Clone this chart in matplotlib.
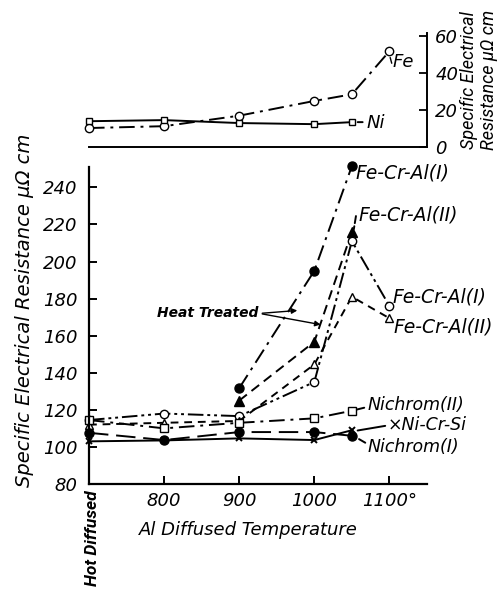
import numpy as np
import matplotlib
matplotlib.use("Agg")
import matplotlib.pyplot as plt

# x = 700 stands for the "Hot Diffused" (not diffused) specimens
temp_all = [700, 800, 900, 1000, 1050]
temp_ht = [900, 1000, 1050]
temp_fe = [700, 800, 900, 1000, 1050, 1100]

# upper panel : pure metals
fe = [10.3, 11.3, 17, 25, 28.6, 52]
ni = [14, 14.6, 13, 12.4, 13.5]

# lower panel
fecral1_ht = [131.7, 195, 251.5]
fecral2_ht = [125, 156.7, 216]
fecral1 = [114.5, 118, 116.6, 135, 211, 176]
fecral2 = [112, 113, 114, 144.5, 181, 169.4]
nichrom2 = [114.5, 110, 113, 115.4, 119.5]
nicrsi = [103, 103.5, 104.6, 103.7, 109]
nichrom1 = [107.6, 103.7, 108, 108, 106]

yticks_main = [80, 100, 120, 140, 160, 180, 200, 220, 240]
xticks = [800, 900, 1000, 1100]
xtick_labels = ["800", "900", "1000", "1100°"]
yticks_top = [0, 20, 40, 60]

plt.rcParams["font.family"] = "DejaVu Sans"
plt.rcParams["font.style"] = "italic"
narrow = ["Roboto", "DejaVu Sans"]

fig = plt.figure(figsize=(5.02, 5.89), dpi=100)
lw = 1.4

# ------------------------------------------------------------------
# main panel
ax = fig.add_axes([0.1773, 0.1783, 0.6733, 0.5382])
ax.set_xlim(700, 1150)
ax.set_ylim(80, 251)
ax.spines["top"].set_visible(False)
ax.spines["right"].set_visible(False)
ax.spines["left"].set_linewidth(1.6)
ax.spines["bottom"].set_linewidth(1.6)

ax.plot(temp_ht, fecral1_ht, color="k", lw=lw, dashes=(8, 3, 1.5, 3),
        marker="o", ms=6.5, mfc="k", clip_on=False)
ax.plot(temp_ht, fecral2_ht, color="k", lw=lw, dashes=(5, 3),
        marker="^", ms=6.5, mfc="k", clip_on=False)
ax.plot(temp_fe, fecral1, color="k", lw=lw, dashes=(8, 2, 1.5, 2, 1.5, 2),
        marker="o", ms=6, mfc="white", clip_on=False)
ax.plot(temp_fe, fecral2, color="k", lw=lw, dashes=(4, 3),
        marker="^", ms=6, mfc="white", clip_on=False)
ax.plot(temp_all, nichrom2, color="k", lw=lw, dashes=(8, 3, 1.5, 3),
        marker="s", ms=5.5, mfc="white", clip_on=False)
ax.plot(temp_all, nicrsi, color="k", lw=lw, marker="x", ms=5, mew=1.4,
        clip_on=False)
ax.plot(temp_all, nichrom1, color="k", lw=lw, dashes=(10, 4),
        marker="o", ms=6.5, mfc="k", clip_on=False)

ax.set_xticks(xticks)
ax.set_xticklabels(xtick_labels)
ax.set_yticks(yticks_main)
ax.tick_params(axis="both", direction="in", length=6, width=1.4,
               labelsize=13)
ax.tick_params(axis="y", pad=8)
ax.tick_params(axis="x", pad=6)

lab = dict(fontsize=12.5, ha="left", va="center", clip_on=False)
big = dict(fontsize=13.5, ha="left", va="center", clip_on=False)
ax.text(1055, 247.6, "Fe-Cr-Al(I)", **big)
ax.text(1059, 225, "Fe-Cr-Al(II)", **big)
ax.annotate("", xy=(1052, 216), xytext=(1056, 226),
            arrowprops=dict(arrowstyle="-", ls="--", lw=lw))
ax.text(1104, 181, "Fe-Cr-Al(I)", **big)
ax.text(1105, 164.6, "Fe-Cr-Al(II)", **big)
ax.text(1071, 122.6, "Nichrom(II)", **lab)
ax.annotate("", xy=(1053, 119.8), xytext=(1070, 121.5),
            arrowprops=dict(arrowstyle="-", lw=lw))
ax.text(1097, 111.8, "×Ni-Cr-Si", **lab)
ax.annotate("", xy=(1054, 108.6), xytext=(1098, 111.6),
            arrowprops=dict(arrowstyle="-", lw=lw))
ax.text(1071, 100, "Nichrom(I)", **lab)
ax.annotate("", xy=(1054, 105.5), xytext=(1071, 101.5),
            arrowprops=dict(arrowstyle="-", lw=lw, ls="--"))

ax.text(926, 172, "Heat Treated", fontsize=10, fontweight="bold",
        ha="right", va="center")
ax.annotate("", xy=(981, 173.7), xytext=(927, 172),
            arrowprops=dict(arrowstyle="-|>", lw=1.0, color="k",
                            mutation_scale=8))
ax.annotate("", xy=(1012, 165.7), xytext=(927, 172),
            arrowprops=dict(arrowstyle="-|>", lw=1.0, color="k",
                            mutation_scale=8))

fig.text(25 / 502, 1 - 310 / 589, "Specific Electrical Resistance μΩ cm",
         rotation=90, ha="center", va="center", fontsize=14)
fig.text(248 / 502, 1 - 530 / 589, "Al Diffused Temperature",
         ha="center", va="center", fontsize=13)
fig.text(93 / 502, 1 - 490 / 589, "Hot Diffused", rotation=90,
         ha="center", va="top", fontsize=12.5, family=narrow,
         fontweight="bold")

# ------------------------------------------------------------------
# upper panel
ax2 = fig.add_axes([0.1773, 0.7504, 0.6733, 0.194])
ax2.set_xlim(700, 1150)
ax2.set_ylim(0, 62)
ax2.spines["top"].set_visible(False)
ax2.spines["left"].set_visible(False)
ax2.spines["right"].set_linewidth(1.4)
ax2.spines["bottom"].set_linewidth(1.4)
ax2.yaxis.tick_right()
ax2.set_xticks([])
ax2.set_yticks(yticks_top)
ax2.tick_params(axis="y", direction="in", length=6, width=1.3,
                labelsize=13, pad=6)

ax2.plot(temp_fe, fe, color="k", lw=lw, dashes=(8, 3, 1.5, 3),
         marker="o", ms=6, mfc="white", clip_on=False)
ax2.plot(temp_all, ni, color="k", lw=lw, marker="s", ms=5, mfc="white",
         clip_on=False)
ax2.annotate("", xy=(1054, 13.5), xytext=(1068, 13.5),
             arrowprops=dict(arrowstyle="-", lw=lw))
ax2.text(1070, 13, "Ni", fontsize=13, ha="left", va="center")
ax2.text(1104, 46, "Fe", fontsize=13, ha="left", va="center")
ax2.annotate("", xy=(1100, 50), xytext=(1104, 44),
             arrowprops=dict(arrowstyle="-", lw=1.0))

fig.text(479 / 502, 1 - 80 / 589, "Specific Electrical\nResistance μΩ cm",
         rotation=90, ha="center", va="center", fontsize=13,
         linespacing=1.15, family=narrow)

fig.savefig("out.png", dpi=100)
